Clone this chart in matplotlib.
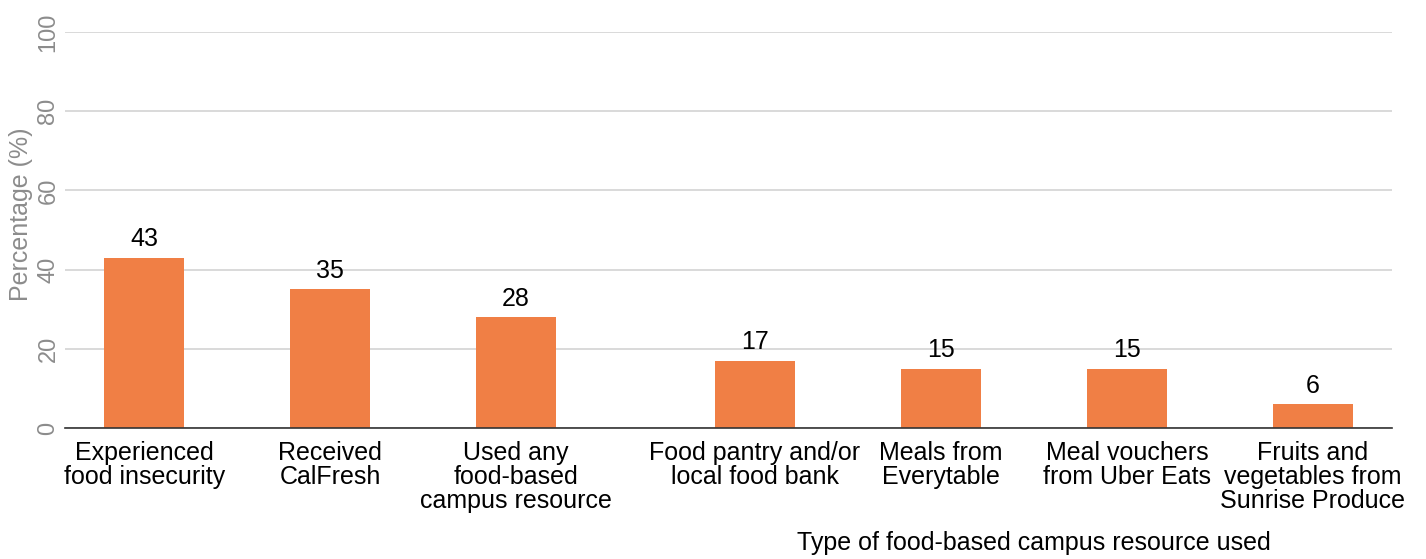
import matplotlib.pyplot as plt
import numpy as np

plt.rcParams['font.family'] = ['Liberation Sans', 'DejaVu Sans']

# data
categories = ['Experienced\nfood insecurity', 'Received\nCalFresh',
              'Used any\nfood-based\ncampus resource',
              'Food pantry and/or\nlocal food bank', 'Meals from\nEverytable',
              'Meal vouchers\nfrom Uber Eats',
              'Fruits and\nvegetables from\nSunrise Produce']
values = [43, 35, 28, 17, 15, 15, 6]
yticks = [0, 20, 40, 60, 80, 100]

# gap between the summary bars and the resource-type bars
x = np.arange(len(values), dtype=float)
x[3:] += 0.285

fig = plt.figure(figsize=(14.26, 5.59), dpi=100)
ax = fig.add_axes([0.0456, 0.2343, 0.9305, 0.7085])

bars = ax.bar(x, values, width=0.43, color='#f07f45', zorder=3)
for xi, v in zip(x, values):
    ax.text(xi, v + 1.6, str(v), ha='center', va='bottom', fontsize=18, color='black')

ax.set_ylim(0, 100)
ax.set_xlim(-0.425, 6.71)
ax.set_yticks(yticks)
ax.set_yticklabels([str(t) for t in yticks], rotation=90, va='center',
                   fontsize=17, color='#8c8c8c')
ax.set_xticks(x)
ax.set_xticklabels(categories, fontsize=18, color='black', linespacing=1.02)
ax.tick_params(axis='both', length=0)
ax.tick_params(axis='x', pad=9)
ax.tick_params(axis='y', pad=4)
ax.grid(axis='y', color='#d3d3d3', linewidth=1.2, zorder=0)
for s in ['top', 'right', 'left']:
    ax.spines[s].set_visible(False)
ax.spines['bottom'].set_color('#333333')
ax.spines['bottom'].set_linewidth(1.2)
ax.spines['bottom'].set_zorder(4)

ax.set_ylabel('Percentage (%)', fontsize=18, color='#8c8c8c')
ax.yaxis.set_label_coords(-0.024, 0.54)

# label for the resource-type group, centred under the last four bars
fig.text((755 + 1313) / 2 / 1426, 1 - 543 / 559, 'Type of food-based campus resource used',
         ha='center', va='center', fontsize=18)

fig.savefig('out.png', dpi=100)
